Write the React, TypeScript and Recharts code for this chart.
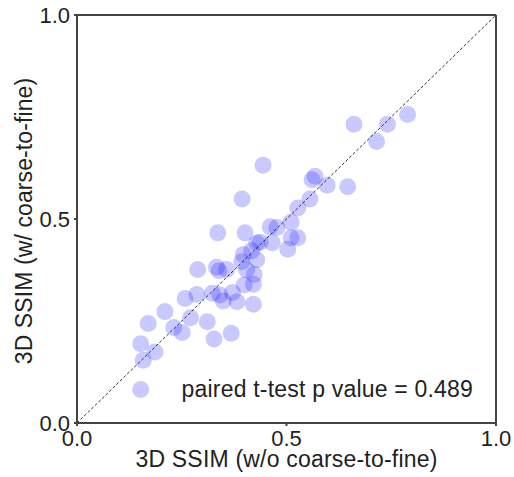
import React from 'react';
import { ScatterChart, Scatter, XAxis, YAxis, ReferenceLine, Label } from 'recharts';

// SSIM without coarse-to-fine (x) and with coarse-to-fine (y)
const ssimWithout = [
  0.152, 0.158, 0.152, 0.186, 0.170, 0.210, 0.231, 0.251, 0.271, 0.311,
  0.327, 0.368, 0.258, 0.286, 0.323, 0.341, 0.371, 0.349, 0.382, 0.421,
  0.399, 0.421, 0.288, 0.333, 0.339, 0.357, 0.405, 0.423, 0.393, 0.429,
  0.397, 0.417, 0.429, 0.437, 0.466, 0.503, 0.511, 0.527, 0.511, 0.461,
  0.477, 0.336, 0.401, 0.527, 0.556, 0.568, 0.561, 0.597, 0.646, 0.394,
  0.444, 0.661, 0.715, 0.741, 0.789,
];
const ssimWith = [
  0.082, 0.154, 0.194, 0.174, 0.244, 0.273, 0.234, 0.222, 0.258, 0.248,
  0.206, 0.220, 0.305, 0.315, 0.318, 0.314, 0.320, 0.299, 0.297, 0.291,
  0.338, 0.340, 0.376, 0.382, 0.373, 0.376, 0.375, 0.364, 0.395, 0.400,
  0.413, 0.422, 0.441, 0.443, 0.442, 0.426, 0.454, 0.454, 0.492, 0.481,
  0.479, 0.466, 0.466, 0.527, 0.549, 0.605, 0.596, 0.583, 0.579, 0.549,
  0.632, 0.732, 0.690, 0.732, 0.756,
];
const axisTicks = [0, 0.5, 1];
const xLabel = '3D SSIM (w/o coarse-to-fine)';
const yLabel = '3D SSIM (w/ coarse-to-fine)';
const annotation = 'paired t-test p value = 0.489';

const points = ssimWithout.map((x, i) => ({ x, y: ssimWith[i] }));

const FONT = '"Liberation Sans", Arial, Helvetica, sans-serif';
const TEXT = '#222';
const FRAME = '#444';

const Dot = (props: any) => {
  const { cx, cy } = props;
  if (cx == null || cy == null) return null;
  return <circle cx={cx} cy={cy} r={8.5} fill="#0000ff" fillOpacity={0.21} />;
};

const YLab = (props: any) => {
  const vb = props.viewBox || {};
  const cx = 31.5;
  const cy = (vb.y ?? 15) + (vb.height ?? 408) / 2 + 2;
  return (
    <text
      x={cx}
      y={cy}
      transform={`rotate(-90, ${cx}, ${cy})`}
      textAnchor="middle"
      fontSize={23}
      letterSpacing={0.1}
      fontFamily={FONT}
      fill={TEXT}
    >
      {yLabel}
    </text>
  );
};

export default function App() {
  return (
    <div style={{ position: 'absolute', left: 0, top: 0, background: '#fff' }}>
      <ScatterChart
        width={514}
        height={477}
        margin={{ top: 15, right: 18, bottom: 0, left: 0 }}
        style={{ fontFamily: FONT }}
      >
        <XAxis
          type="number"
          dataKey="x"
          domain={[0, 1]}
          ticks={axisTicks}
          tickFormatter={(v: number) => v.toFixed(1)}
          height={54}
          tickSize={3}
          tickMargin={4}
          stroke={FRAME}
          strokeWidth={2}
          tick={{ fontSize: 22, fill: TEXT, fontFamily: FONT }}
          allowDataOverflow
        >
          <Label
            value={xLabel}
            position="insideBottom"
            offset={10}
            style={{ fontSize: 23, fill: TEXT, fontFamily: FONT, letterSpacing: 0.2 }}
          />
        </XAxis>
        <YAxis
          type="number"
          dataKey="y"
          domain={[0, 1]}
          ticks={axisTicks}
          tickFormatter={(v: number) => v.toFixed(1)}
          width={77}
          tickSize={3}
          tickMargin={4}
          stroke={FRAME}
          strokeWidth={2}
          tick={{ fontSize: 22, fill: TEXT, fontFamily: FONT }}
          allowDataOverflow
        >
          <Label content={<YLab />} />
        </YAxis>
        <Scatter data={points} shape={<Dot />} isAnimationActive={false} />
        <ReferenceLine
          segment={[{ x: 0, y: 0 }, { x: 1, y: 1 }]}
          stroke="#333"
          strokeWidth={1}
          strokeDasharray="3 2"
        />
        <ReferenceLine x={1} stroke={FRAME} strokeWidth={2} />
        <ReferenceLine y={1} stroke={FRAME} strokeWidth={2} />
        <text x={181.5} y={397} fontSize={23} letterSpacing={0.2} fontFamily={FONT} fill={TEXT}>
          {annotation}
        </text>
      </ScatterChart>
    </div>
  );
}
